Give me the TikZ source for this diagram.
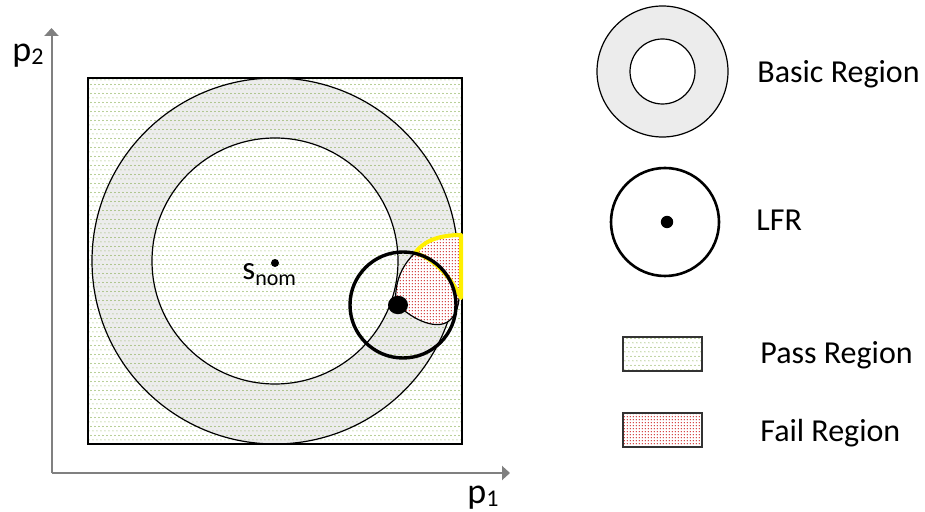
\documentclass[tikz,border=0pt]{standalone}
\usepackage{fontspec}
\setmainfont{Carlito}
\usetikzlibrary{arrows.meta,patterns.meta}
\definecolor{dotgreen}{RGB}{115,160,50}
\definecolor{dotred}{RGB}{210,55,55}
\definecolor{annulusgray}{RGB}{236,236,236}
\definecolor{axisgray}{RGB}{128,128,128}
\definecolor{yel}{RGB}{255,240,0}
\tikzdeclarepattern{
  name=gdots, type=colored,
  bounding box={(0pt,0pt) and (2.2pt,4.4pt)},
  tile size={(2.2pt,4.4pt)},
  code={\fill[dotgreen] (0.55pt,1.1pt) circle[radius=0.28pt];
        \fill[dotgreen] (1.65pt,3.3pt) circle[radius=0.28pt];}
}
\tikzdeclarepattern{
  name=rdots, type=colored,
  bounding box={(0pt,0pt) and (1.6pt,1.6pt)},
  tile size={(1.6pt,1.6pt)},
  code={\fill[dotred] (0.8pt,0.8pt) circle[radius=0.42pt];}
}
\tikzset{
  thinline/.style={draw=black,line width=0.6pt},
  axisline/.style={draw=axisgray,line width=1pt,-{Triangle[width=7pt,length=4pt]}},
  lbl/.style={inner sep=0pt,anchor=base west,font=\fontsize{16}{18}\selectfont},
  passfill/.style={fill=white,postaction={pattern=gdots}},
  failfill/.style={fill=white,postaction={pattern=rdots}},
}
\begin{document}
\begin{tikzpicture}[x=0.5pt,y=-0.5pt]
\useasboundingbox (0,0) rectangle (925,512);
% axes
\coordinate (o) at (51.5,473);
\coordinate (ytip) at (51.5,28);
\coordinate (xtip) at (510,473);
\draw[axisline] (o) -- (ytip);
\draw[axisline] (o) -- (xtip);
\node[inner sep=0pt,anchor=base west,font=\fontsize{18}{20}\selectfont] (p2) at (12,62) {p\raisebox{-1.5pt}{\fontsize{12}{12}\selectfont 2}};
\node[inner sep=0pt,anchor=base west,font=\fontsize{18}{20}\selectfont] (p1) at (467,503) {p\raisebox{-1.5pt}{\fontsize{12}{12}\selectfont 1}};
% square and basic region
\fill[white] (88,78) rectangle (462,444);
\fill[annulusgray,even odd rule] (275,261) circle[radius=91.5pt] (275,261) circle[radius=61.5pt];
\fill[pattern=gdots] (88,78) rectangle (462,444);
\draw[thinline] (275,261) circle[radius=91.5pt];
\draw[thinline] (275,261) circle[radius=61.5pt];
\draw[black,line width=0.9pt] (88,78) rectangle (462,444);
% fail region pieces
\path[failfill] (415,253) .. controls (402,265) and (394,283) .. (396,303)
  .. controls (412,320) and (440,333) .. (452,318)
  .. controls (456,313) and (459,305) .. (459,298)
  .. controls (452,278) and (432,257) .. (415,253) -- cycle;
\draw[thinline] (415,253) .. controls (402,265) and (394,283) .. (396,303)
  .. controls (412,320) and (440,333) .. (452,318)
  .. controls (456,313) and (459,305) .. (459,298);
\path[failfill] (415,253) .. controls (423,242) and (437,235) .. (461,235)
  -- (461,298) .. controls (452,278) and (432,257) .. (415,253) -- cycle;
\draw[yel,line width=2pt,line join=round] (415,253) .. controls (423,242) and (437,235) .. (461,235)
  -- (461,298) .. controls (452,278) and (432,257) .. (415,253) -- cycle;
% LFR in plot
\draw[black,line width=1.7pt] (403,305) circle[radius=26.5pt];
\fill[black] (398,305) ellipse[x radius=5pt,y radius=4.6pt];
% s_nom
\fill[black] (275,263) circle[radius=2pt];
\node[inner sep=0pt,anchor=base west,font=\fontsize{16.5}{18}\selectfont] (snom) at (242,280) {s\raisebox{-3pt}{\fontsize{11}{12}\selectfont nom}};
% legend
\fill[annulusgray,even odd rule] (662.5,71.5) circle[radius=32.75pt] (662.5,71.5) circle[radius=16.25pt];
\draw[thinline] (662.5,71.5) circle[radius=32.75pt];
\draw[thinline] (662.5,71.5) circle[radius=16.25pt];
\node[lbl] (basic) at (757,83) {Basic Region};
\draw[black,line width=1.3pt] (665,222) circle[radius=27pt];
\fill[black] (667,222) circle[radius=3.1pt];
\node[lbl] (lfr) at (756,231) {LFR};
\path[passfill] (623,337) rectangle (702,371);
\draw[black!80,line width=0.8pt] (623,337) rectangle (702,371);
\node[lbl] (pass) at (760,364) {Pass Region};
\path[failfill] (623,413) rectangle (702,447);
\draw[black!80,line width=0.8pt] (623,413) rectangle (702,447);
\node[lbl] (fail) at (760,442) {Fail Region};
\end{tikzpicture}
\end{document}
